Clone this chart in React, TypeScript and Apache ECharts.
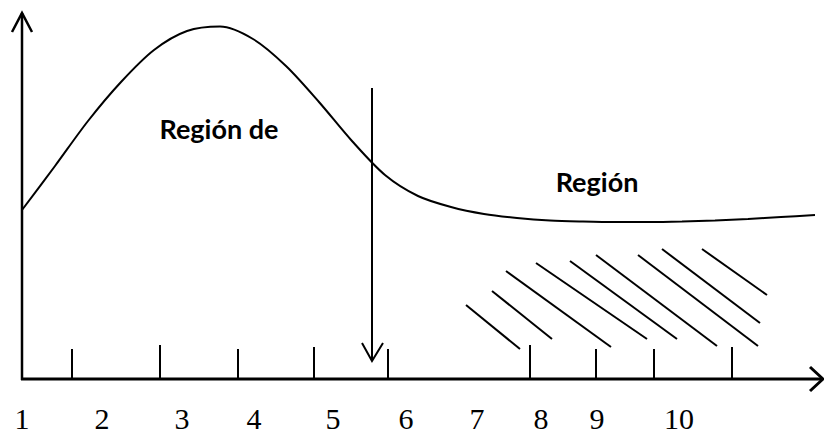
import React, { useEffect, useRef } from "react";
import * as echarts from "echarts";

// Diagram coordinate space (x to the right, y downward), 824 x 436 units
const curvePoints: [number, number][] = [
  [22, 210], [55, 166], [88, 121], [121, 82], [154, 50], [187, 31], [220, 26.5],
  [253, 39], [286, 66], [319, 102], [352, 141], [385, 175], [418, 196],
  [451, 207], [484, 214], [517, 218], [550, 220.5], [583, 221.5], [616, 222],
  [649, 222], [682, 221.5], [715, 220.5], [748, 219], [781, 217], [815, 215],
];

const tickXs = [72, 160, 238, 314, 388, 530, 596, 654, 732];
const tickTops = [349, 345, 349, 347, 349, 345, 349, 349, 347];

const tickLabels = ["1", "2", "3", "4", "5", "6", "7", "8", "9", "10"];
const tickLabelXs = [22, 102, 182, 254, 333, 406, 477, 541, 597, 679];

const hatchLines: [number, number, number, number][] = [
  [466, 305, 520, 349],
  [492, 291, 552, 339],
  [506, 271, 611, 347],
  [536, 263, 647, 339],
  [570, 261, 677, 339],
  [596, 255, 717, 346],
  [638, 255, 758, 346],
  [662, 249, 760, 323],
  [702, 249, 767, 295],
];

const regionLabels = ["Región de", "Región"];
const regionLabelPos: [number, number][] = [[219, 128], [597, 181]];

export default function App() {
  const ref = useRef<HTMLDivElement>(null);
  useEffect(() => {
    if (!ref.current) return;
    const chart = echarts.init(ref.current, null, { renderer: "svg" });
    const black = "#000";
    const textSeries = (names: string[], pos: [number, number][], label: any) => ({
      type: "scatter",
      symbolSize: 0,
      itemStyle: { color: black, opacity: 1 },
      data: names.map((t, i) => ({ name: t, value: pos[i] })),
      label: {
        show: true,
        position: "inside",
        formatter: "{b}",
        color: black,
        opacity: 1,
        textBorderWidth: 0,
        align: "center",
        verticalAlign: "middle",
        ...label,
      },
      emphasis: { disabled: true },
    });
    chart.setOption({
      animation: false,
      backgroundColor: "#fff",
      grid: { left: 0, right: 0, top: 0, bottom: 0 },
      xAxis: { type: "value", min: 0, max: 824, show: false },
      yAxis: { type: "value", min: 0, max: 436, inverse: true, show: false },
      series: [
        {
          type: "line",
          data: curvePoints,
          smooth: 0.3,
          showSymbol: false,
          symbol: "none",
          lineStyle: { color: black, width: 2 },
          z: 3,
        },
        {
          type: "lines",
          coordinateSystem: "cartesian2d",
          polyline: true,
          lineStyle: { color: black, width: 2.5, opacity: 1 },
          data: [
            { coords: [[22, 380], [22, 13]] },
            { coords: [[12, 32], [22, 13], [32, 32]] },
          ],
        },
        {
          type: "lines",
          coordinateSystem: "cartesian2d",
          polyline: true,
          lineStyle: { color: black, width: 3, opacity: 1 },
          data: [
            { coords: [[21, 379], [822, 379]] },
            { coords: [[810, 367], [823, 379], [810, 391]] },
          ],
        },
        {
          type: "lines",
          coordinateSystem: "cartesian2d",
          polyline: true,
          lineStyle: { color: black, width: 2, opacity: 1 },
          data: [
            { coords: [[372, 88], [372, 361]] },
            { coords: [[362, 343], [372, 361], [383, 343]] },
          ],
        },
        {
          type: "lines",
          coordinateSystem: "cartesian2d",
          lineStyle: { color: black, width: 2, opacity: 1 },
          data: tickXs.map((x, i) => ({ coords: [[x, 379], [x, tickTops[i]]] })),
        },
        {
          type: "lines",
          coordinateSystem: "cartesian2d",
          lineStyle: { color: black, width: 2, opacity: 1 },
          data: hatchLines.map(([x1, y1, x2, y2]) => ({ coords: [[x1, y1], [x2, y2]] })),
        },
        textSeries(
          tickLabels,
          tickLabelXs.map((x) => [x, 418] as [number, number]),
          { fontFamily: "Liberation Serif", fontSize: 30 }
        ),
        textSeries(regionLabels, regionLabelPos, {
          fontFamily: "Lato",
          fontWeight: "bold",
          fontSize: 27,
        }),
      ],
    });
    return () => chart.dispose();
  }, []);
  return (
    <div
      ref={ref}
      style={{ position: "absolute", left: 0, top: 0, width: 824, height: 436, background: "#fff" }}
    />
  );
}
